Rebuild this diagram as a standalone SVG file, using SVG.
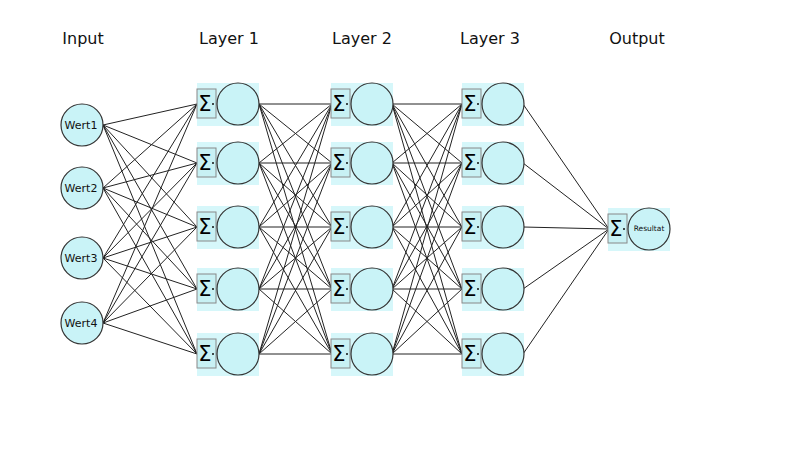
<svg xmlns="http://www.w3.org/2000/svg" width="804" height="452" viewBox="0 0 804 452">
<style>
.title{font-family:"DejaVu Sans",sans-serif;font-size:16px;fill:#111;text-anchor:middle}
.lbl{font-family:"DejaVu Sans",sans-serif;font-size:11px;fill:#111;text-anchor:middle}
.res{font-family:"DejaVu Sans",sans-serif;font-size:7.5px;fill:#111;text-anchor:middle}
.sig{font-family:"DejaVu Sans",sans-serif;font-size:21px;fill:#000;text-anchor:middle}
.bg{fill:#d6f7fa}
.box{fill:#c8f1f4;stroke:#888;stroke-width:1}
.node{fill:#c9f3f7;stroke:#333;stroke-width:1.2}
.dot{fill:#111}
.c path{stroke:#222;stroke-width:1;fill:none}
</style>
<defs>
<g id="neuron">
<rect class="bg" x="0" y="-21" width="62" height="43"/>
<rect class="box" x="0" y="-15" width="19" height="29"/>
<text class="sig" x="8" y="7">Σ</text>
<circle class="dot" cx="16" cy="0" r="1"/>
<circle class="node" cx="41" cy="0" r="21"/>
</g>
</defs>
<rect width="804" height="452" fill="#fff"/>
<g id="titles">
<text class="title" x="83" y="44">Input</text>
<text class="title" x="229" y="44">Layer 1</text>
<text class="title" x="362" y="44">Layer 2</text>
<text class="title" x="490" y="44">Layer 3</text>
<text class="title" x="637" y="44">Output</text>
</g>
<g id="connectors" class="c">
<path d="M103 125L197 104M103 125L197 163M103 125L197 227M103 125L197 289M103 125L197 354"/>
<path d="M103 188L197 104M103 188L197 163M103 188L197 227M103 188L197 289M103 188L197 354"/>
<path d="M103 258L197 104M103 258L197 163M103 258L197 227M103 258L197 289M103 258L197 354"/>
<path d="M103 323L197 104M103 323L197 163M103 323L197 227M103 323L197 289M103 323L197 354"/>
<path d="M259 104L332 104M259 104L332 163M259 104L332 227M259 104L332 289M259 104L332 354"/>
<path d="M259 163L332 104M259 163L332 163M259 163L332 227M259 163L332 289M259 163L332 354"/>
<path d="M259 227L332 104M259 227L332 163M259 227L332 227M259 227L332 289M259 227L332 354"/>
<path d="M259 289L332 104M259 289L332 163M259 289L332 227M259 289L332 289M259 289L332 354"/>
<path d="M259 354L332 104M259 354L332 163M259 354L332 227M259 354L332 289M259 354L332 354"/>
<path d="M392 104L462 104M392 104L462 163M392 104L462 227M392 104L462 289M392 104L462 354"/>
<path d="M392 163L462 104M392 163L462 163M392 163L462 227M392 163L462 289M392 163L462 354"/>
<path d="M392 227L462 104M392 227L462 163M392 227L462 227M392 227L462 289M392 227L462 354"/>
<path d="M392 289L462 104M392 289L462 163M392 289L462 227M392 289L462 289M392 289L462 354"/>
<path d="M392 354L462 104M392 354L462 163M392 354L462 227M392 354L462 289M392 354L462 354"/>
<path d="M523 104L609 229M523 163L609 229M523 227L609 229M523 289L609 229M523 354L609 229"/>
</g>
<g id="in1"><circle class="node" cx="82" cy="125" r="21"/><text class="lbl" x="81" y="129">Wert1</text></g>
<g id="in2"><circle class="node" cx="82" cy="188" r="21"/><text class="lbl" x="81" y="192">Wert2</text></g>
<g id="in3"><circle class="node" cx="82" cy="258" r="21"/><text class="lbl" x="81" y="262">Wert3</text></g>
<g id="in4"><circle class="node" cx="82" cy="323" r="21"/><text class="lbl" x="81" y="327">Wert4</text></g>
<g id="l1n1"><use href="#neuron" x="197" y="104"/></g>
<g id="l1n2"><use href="#neuron" x="197" y="163"/></g>
<g id="l1n3"><use href="#neuron" x="197" y="227"/></g>
<g id="l1n4"><use href="#neuron" x="197" y="289"/></g>
<g id="l1n5"><use href="#neuron" x="197" y="354"/></g>
<g id="l2n1"><use href="#neuron" x="331" y="104"/></g>
<g id="l2n2"><use href="#neuron" x="331" y="163"/></g>
<g id="l2n3"><use href="#neuron" x="331" y="227"/></g>
<g id="l2n4"><use href="#neuron" x="331" y="289"/></g>
<g id="l2n5"><use href="#neuron" x="331" y="354"/></g>
<g id="l3n1"><use href="#neuron" x="462" y="104"/></g>
<g id="l3n2"><use href="#neuron" x="462" y="163"/></g>
<g id="l3n3"><use href="#neuron" x="462" y="227"/></g>
<g id="l3n4"><use href="#neuron" x="462" y="289"/></g>
<g id="l3n5"><use href="#neuron" x="462" y="354"/></g>
<g id="out"><use href="#neuron" x="608" y="229"/><text class="res" x="649" y="231">Resultat</text></g>
</svg>
